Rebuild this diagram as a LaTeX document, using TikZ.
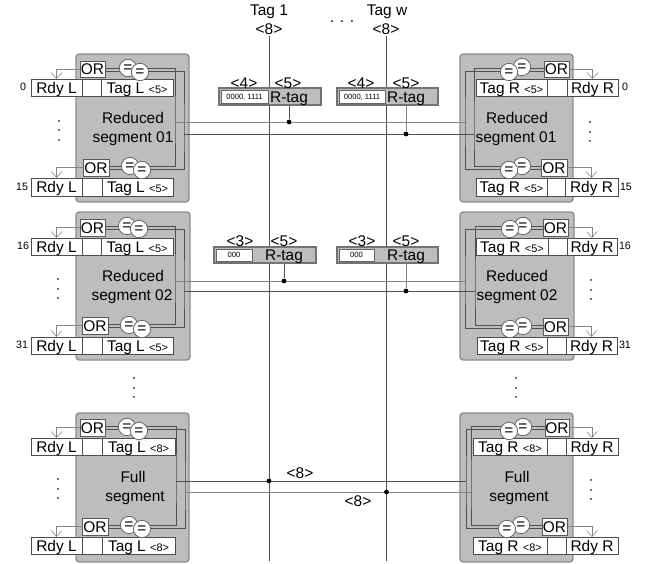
\documentclass[tikz,border=0pt]{standalone}
\usepackage{fontspec}
\setmainfont{Liberation Sans}
\usetikzlibrary{arrows.meta}
\pgfdeclarelayer{under}
\pgfdeclarelayer{wires}
\pgfsetlayers{under,wires,main}
\definecolor{boxgray}{HTML}{BDBDBD}
\definecolor{edgegray}{HTML}{8C8C8C}
\definecolor{wiredark}{HTML}{505050}
\definecolor{wirelight}{HTML}{858585}
\tikzset{
  lab/.style={font=\fontsize{11.6pt}{13pt}\selectfont,text height=8.3pt,text depth=0pt,inner sep=0pt,outer sep=0pt},
  smalllab/.style={font=\fontsize{8pt}{9pt}\selectfont,text height=5.8pt,text depth=0pt,inner sep=0pt,outer sep=0pt},
  tinylab/.style={font=\fontsize{5.7pt}{7pt}\selectfont,text height=4.1pt,text depth=0pt,inner sep=0pt,outer sep=0pt},
  cellbox/.style={lab,draw=black!70,line width=.65pt,fill=white},
  gatebox/.style={lab,draw=black!65,line width=.65pt,fill=white},
  eqcirc/.style={lab,circle,draw=black!60,line width=.6pt,fill=white,minimum size=13pt,text height=6pt},
  segbox/.style={draw=edgegray,line width=1.1pt,fill=boxgray,rounded corners=2.5pt,inner sep=0pt,outer sep=0pt},
  tagbox/.style={draw=black!55,line width=.8pt,fill=boxgray,inner sep=0pt,outer sep=0pt},
  valbox/.style={tinylab,draw=black!60,line width=.7pt,fill=white},
  wire/.style={draw=wiredark,line width=.65pt},
  lwire/.style={draw=wirelight,line width=.7pt},
  rdyarrow/.style={draw=wirelight,line width=.65pt,-{Straight Barb[length=4.5pt,width=8pt,line width=.45pt]}},
  junction/.style={circle,fill=black,inner sep=0pt,minimum size=3.6pt},
  dotcol/.style={font=\fontsize{11pt}{12pt}\selectfont,rotate=90,inner sep=0pt}
}
\newcommand{\sized}[1]{{\fontsize{8.2pt}{9pt}\selectfont <#1>}}
% rectangle given by its corners: style, name, x1, y1, x2, y2, text
\newcommand{\rectnode}[7]{%
  \node[#1,minimum width={(#5-#3)*0.75pt},minimum height={(#6-#4)*0.75pt}] (#2) at ({(#3+#5)/2},{(#4+#6)/2}) {#7};}
% a row of three cells
\newcommand{\cells}[8]{%
  \rectnode{cellbox}{#1a}{#2}{#6}{#3}{#7}{#8}\cellsnext{#1}{#3}{#4}{#5}{#6}{#7}}
\newcommand{\cellsnext}[7]{%
  \rectnode{cellbox}{#1m}{#2}{#5}{#3}{#6}{}%
  \rectnode{cellbox}{#1b}{#3}{#5}{#4}{#6}{#7}}
% OR gate and its two comparators
\newcommand{\gates}[9]{%
  \rectnode{gatebox}{#1or}{#2}{#3}{#4}{#5}{OR}%
  \node[eqcirc] (#1ea) at (#6,#7) {=};%
  \node[eqcirc] (#1eb) at (#8,#9) {=};}
% the two buses that join the comparators of a segment: top, bottom, inner x, outer x, inner y, outer y, anchor
\newcommand{\buses}[7]{%
  \begin{pgfonlayer}{wires}
    \coordinate (#1i) at (#3,#5);
    \coordinate (#1o) at (#4,#6);
    \draw[wire] ([yshift=.6pt]#1or.#7) -| (#1i) |- ([yshift=.6pt]#2or.#7);
    \draw[wire] ([yshift=-1.6pt]#1or.#7) -| (#1o) |- ([yshift=-1.6pt]#2or.#7);
  \end{pgfonlayer}}
\begin{document}
\begin{tikzpicture}[x=0.75pt,y=-0.75pt]
\useasboundingbox (0,0) rectangle (651,564);

% ---------- gray segment blocks
\begin{pgfonlayer}{under}
\fill[white] (0,0) rectangle (651,564);
\rectnode{segbox}{sa}{76}{54}{189}{202}{}
\rectnode{segbox}{sb}{460}{54}{573}{202}{}
\rectnode{segbox}{sc}{76}{212}{190}{360}{}
\rectnode{segbox}{sd}{460}{212}{574}{360}{}
\rectnode{segbox}{se}{76}{413}{189}{562}{}
\rectnode{segbox}{sf}{460}{413}{573}{562}{}
\end{pgfonlayer}

% ---------- segment titles
\node[lab] (ta1) at (133,118) {Reduced};
\node[lab] (ta2) at (133,137) {segment 01};
\node[lab] (tb1) at (517,118) {Reduced};
\node[lab] (tb2) at (516,137) {segment 01};
\node[lab] (tc1) at (133,276) {Reduced};
\node[lab] (tc2) at (132,295) {segment 02};
\node[lab] (td1) at (517,276) {Reduced};
\node[lab] (td2) at (517,295) {segment 02};
\node[lab] (te1) at (133,477) {Full};
\node[lab] (te2) at (135,496) {segment};
\node[lab] (tf1) at (517,477) {Full};
\node[lab] (tf2) at (519,496) {segment};

% ---------- left column
\cells{A}{31}{82}{101}{173}{79}{96}{Rdy L}{Tag L \sized{5}}
\gates{A}{80}{61}{105}{77}{128}{68}{140}{72}
\cells{B}{31}{82}{102}{173}{178}{196}{Rdy L}{Tag L \sized{5}}
\gates{B}{83}{159}{109}{176}{130}{166}{142}{170}
\cells{E}{31}{82}{101}{173}{238}{255}{Rdy L}{Tag L \sized{5}}
\gates{E}{80}{219}{105}{236}{127}{226}{139}{229}
\cells{F}{31}{82}{102}{173}{337}{354}{Rdy L}{Tag L \sized{5}}
\gates{F}{82}{317}{108}{334}{129}{325}{142}{329}
\cells{I}{31}{82}{102}{175}{438}{455}{Rdy L}{Tag L \sized{8}}
\gates{I}{80}{419}{105}{436}{127}{427}{139}{431}
\cells{J}{31}{82}{102}{175}{537}{554}{Rdy L}{Tag L \sized{8}}
\gates{J}{82}{518}{108}{535}{129}{525}{142}{529}

% ---------- right column
\cells{C}{476}{547}{567}{618}{79}{96}{Tag R \sized{5}}{Rdy R}
\gates{C}{544}{61}{569}{77}{522}{67}{509}{72}
\cells{D}{476}{547}{565}{618}{178}{196}{Tag R \sized{5}}{Rdy R}
\gates{D}{541}{159}{567}{176}{522}{166}{509}{170}
\cells{G}{476}{548}{567}{617}{238}{255}{Tag R \sized{5}}{Rdy R}
\gates{G}{543}{219}{568}{236}{523}{226}{510}{229}
\cells{H}{477}{547}{566}{617}{337}{354}{Tag R \sized{5}}{Rdy R}
\gates{H}{543}{318}{568}{335}{523}{326}{510}{329}
\cells{K}{473}{547}{566}{618}{438}{455}{Tag R \sized{8}}{Rdy R}
\gates{K}{545}{419}{569}{436}{523}{427}{509}{431}
\cells{L}{473}{547}{566}{618}{537}{554}{Tag R \sized{8}}{Rdy R}
\gates{L}{542}{518}{567}{535}{521}{525}{507}{529}

% ---------- internal buses
\buses{A}{B}{175}{184}{122}{134}{east}
\buses{E}{F}{175}{184}{281}{291}{east}
\buses{I}{J}{176}{185}{481}{492}{east}
\buses{C}{D}{474}{465}{134}{122}{west}
\buses{G}{H}{475}{465}{291}{281}{west}
\buses{K}{L}{471}{466}{492}{481}{west}

% ---------- ready arrows
\begin{pgfonlayer}{wires}
\draw[rdyarrow] (Aor.west) -| (Aa.north);
\draw[rdyarrow] (Bor.west) -| (Ba.north);
\draw[rdyarrow] (Eor.west) -| (Ea.north);
\draw[rdyarrow] (For.west) -| (Fa.north);
\draw[rdyarrow] (Ior.west) -| (Ia.north);
\draw[rdyarrow] (Jor.west) -| (Ja.north);
\draw[rdyarrow] (Cor.east) -| (Cb.north);
\draw[rdyarrow] (Dor.east) -| (Db.north);
\draw[rdyarrow] (Gor.east) -| (Gb.north);
\draw[rdyarrow] (Hor.east) -| (Hb.north);
\draw[rdyarrow] (Kor.east) -| (Kb.north);
\draw[rdyarrow] (Lor.east) -| (Lb.north);
\end{pgfonlayer}

% ---------- row numbers
\node[smalllab,anchor=east] (n0) at (26,87) {0};
\node[smalllab,anchor=east] (n15) at (28,187) {15};
\node[smalllab,anchor=east] (n16) at (29,246) {16};
\node[smalllab,anchor=east] (n31) at (28,345) {31};
\node[smalllab,anchor=west] (m0) at (622,87) {0};
\node[smalllab,anchor=west] (m15) at (620,187) {15};
\node[smalllab,anchor=west] (m16) at (619,246) {16};
\node[smalllab,anchor=west] (m31) at (619,345) {31};

% ---------- vertical dots
\node[dotcol] (v1) at (59,130.5) {. . .};
\node[dotcol] (v2) at (590,132) {. . .};
\node[dotcol] (v3) at (58,289) {. . .};
\node[dotcol] (v4) at (591,290) {. . .};
\node[dotcol] (v5) at (134,388) {. . .};
\node[dotcol] (v6) at (516,388) {. . .};
\node[dotcol] (v7) at (58,489) {. . .};
\node[dotcol] (v8) at (591,490) {. . .};

% ---------- global tag lines
\node[lab] (tag1) at (269,10) {Tag 1};
\node[lab] (tagw) at (387,10) {Tag w};
\node[lab] (w1) at (269,29) {<8>};
\node[lab] (w2) at (386,29) {<8>};
\node[lab] (more) at (342,17) {. . .};
\coordinate (end1) at (269,561);
\coordinate (end2) at (386,561);
\begin{pgfonlayer}{wires}
\draw[wire] (w1.south) ++(0,-1pt) -- (end1);
\draw[wire] (w2.south) ++(0,-1pt) -- (end2);
\end{pgfonlayer}

% ---------- R-tag boxes, row 1
\rectnode{tagbox}{ra}{219}{88}{321}{105}{}
\rectnode{valbox}{raw}{221}{90}{268}{103}{0000, 1111}
\node[lab] (rat) at (289,97) {R-tag};
\node[lab] (ra4) at (244,83) {<4>};
\node[lab] (ra5) at (288,83) {<5>};
\rectnode{tagbox}{rb}{337}{88}{438}{105}{}
\rectnode{valbox}{rbw}{339}{90}{385}{103}{0000, 1111}
\node[lab] (rbt) at (406,97) {R-tag};
\node[lab] (rb4) at (361,83) {<4>};
\node[lab] (rb5) at (406,83) {<5>};

% ---------- R-tag boxes, row 2
\rectnode{tagbox}{rc}{214}{247}{316}{263}{}
\rectnode{valbox}{rcw}{216}{249}{252}{261}{000}
\node[lab] (rct) at (284,255) {R-tag};
\node[lab] (rc3) at (240,241) {<3>};
\node[lab] (rc5) at (284,241) {<5>};
\rectnode{tagbox}{rd}{337}{247}{438}{263}{}
\rectnode{valbox}{rdw}{339}{249}{374}{261}{000}
\node[lab] (rdt) at (406,255) {R-tag};
\node[lab] (rd3) at (362,241) {<3>};
\node[lab] (rd5) at (406,241) {<5>};

% ---------- junctions
\node[junction] (ja) at (289,122) {};
\node[junction] (jb) at (406,134) {};
\node[junction] (jc) at (284,281) {};
\node[junction] (jd) at (406,291) {};
\node[junction] (je) at (269,481) {};
\node[junction] (jf) at (386.5,492) {};

% ---------- horizontal buses and stems
\begin{pgfonlayer}{wires}
\draw[lwire] (Ai) -- (Co);
\draw[wire] (Ao) -- (Ci);
\draw[lwire] (Ei) -- (Go);
\draw[wire] (Eo) -- (Gi);
\draw[wire] (Ii) -- (Ko);
\draw[lwire] (Io) -- (Ki);
\draw[wire] (ra.south -| ja) -- (ja);
\draw[lwire] (rb.south -| jb) -- (jb);
\draw[wire] (rc.south -| jc) -- (jc);
\draw[lwire] (rd.south -| jd) -- (jd);
\end{pgfonlayer}

% ---------- width labels on the full segment buses
\node[lab] (fa) at (300,473) {<8>};
\node[lab] (fb) at (358,501) {<8>};
\end{tikzpicture}
\end{document}
